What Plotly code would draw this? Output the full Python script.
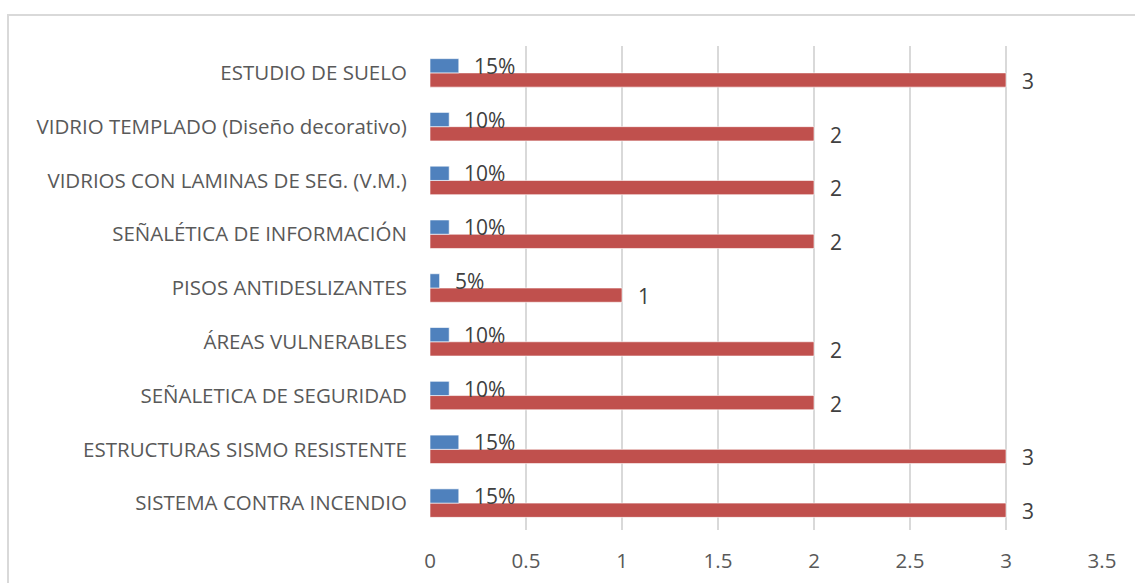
import plotly.graph_objects as go

# Categories listed bottom-to-top (first entry is drawn at the bottom)
categories = [
    "SISTEMA CONTRA INCENDIO",
    "ESTRUCTURAS SISMO RESISTENTE",
    "SEÑALETICA DE SEGURIDAD",
    "ÁREAS VULNERABLES",
    "PISOS ANTIDESLIZANTES",
    "SEÑALÉTICA DE INFORMACIÓN",
    "VIDRIOS CON LAMINAS DE SEG. (V.M.)",
    "VIDRIO TEMPLADO (Diseño decorativo)",
    "ESTUDIO DE SUELO",
]
cantidad = [3, 3, 2, 2, 1, 2, 2, 2, 3]
porcentaje = [0.15, 0.15, 0.10, 0.10, 0.05, 0.10, 0.10, 0.10, 0.15]
x_ticks = [0, 0.5, 1, 1.5, 2, 2.5, 3, 3.5]

BLUE = "#4F81BD"
RED = "#C0504D"
FONT = "Open Sans"
AXIS_SIZE = 20.5
LABEL_SIZE = 21

fig = go.Figure()
fig.add_trace(go.Bar(
    y=categories, x=cantidad, orientation="h", name="Cantidad",
    marker=dict(color=RED, line=dict(color="rgba(255,255,255,0.6)", width=1)),
))
fig.add_trace(go.Bar(
    y=categories, x=porcentaje, orientation="h", name="Porcentaje",
    marker=dict(color=BLUE, line=dict(color="rgba(255,255,255,0.6)", width=1)),
))

# Data labels placed just right of each bar end
for cat, v in zip(categories, cantidad):
    fig.add_annotation(x=v, y=cat, text=str(v), showarrow=False,
                       xanchor="left", yanchor="middle", xshift=14, yshift=-8,
                       font=dict(family=FONT, size=LABEL_SIZE, color="#404040"))
for cat, v in zip(categories, porcentaje):
    fig.add_annotation(x=v, y=cat, text=f"{v:.0%}", showarrow=False,
                       xanchor="left", yanchor="middle", xshift=13, yshift=7,
                       font=dict(family=FONT, size=LABEL_SIZE, color="#404040"))

# Outer chart frame (bottom edge falls outside the visible page)
fig.add_shape(type="rect", xref="paper", yref="paper",
              x0=-0.628, x1=1.06, y0=-0.25, y1=1.064,
              line=dict(color="#D9D9D9", width=2), layer="below")

fig.update_layout(
    width=1135, height=583,
    margin=dict(l=430, r=33, t=46, b=53),
    plot_bgcolor="white", paper_bgcolor="white",
    barmode="group", bargap=0.47, bargroupgap=0,
    showlegend=False,
    font=dict(family=FONT, size=AXIS_SIZE, color="#595959"),
    xaxis=dict(range=[0, 3.5], tickvals=x_ticks, ticktext=[f"{t:g}" for t in x_ticks],
               automargin=False,
               showgrid=True, gridcolor="#D9D9D9", gridwidth=2,
               zeroline=False, showline=False,
               ticks="outside", ticklen=12, tickcolor="rgba(0,0,0,0)",
               tickfont=dict(family=FONT, size=AXIS_SIZE, color="#595959")),
    yaxis=dict(automargin=False, showgrid=False, zeroline=False, showline=False,
               ticks="outside", ticklen=18, tickcolor="rgba(0,0,0,0)",
               tickfont=dict(family=FONT, size=AXIS_SIZE, color="#595959")),
)

fig.write_html("out.html")
